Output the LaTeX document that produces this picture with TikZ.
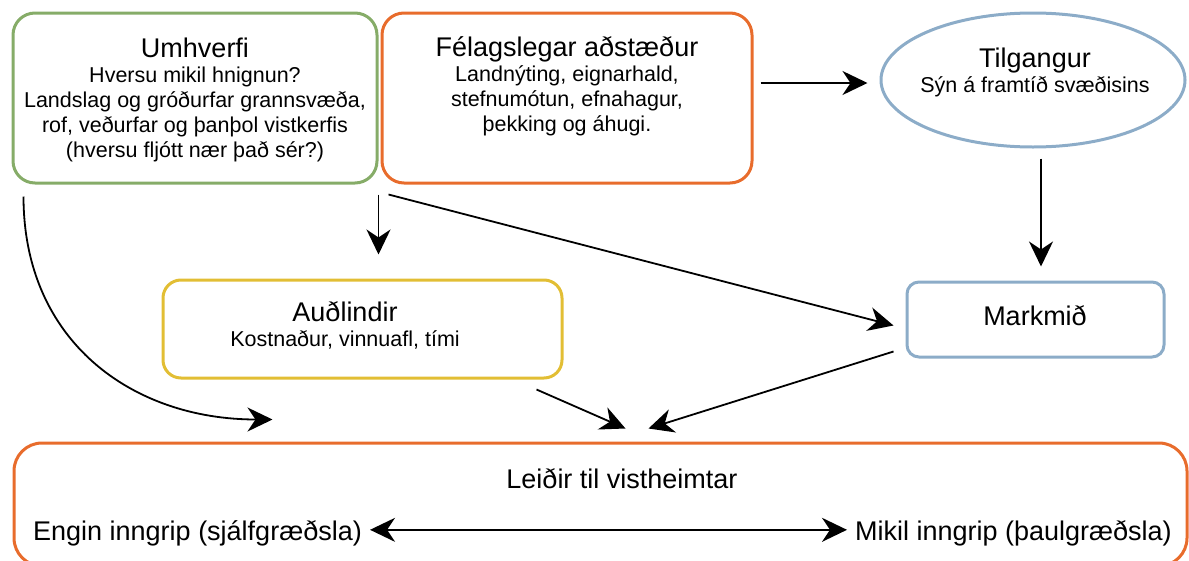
\documentclass[tikz,border=0pt]{standalone}
\usepackage{fontspec}
\setmainfont{Liberation Sans}
\usetikzlibrary{arrows.meta, positioning, calc, shapes.geometric}
\definecolor{envgreen}{RGB}{134,172,104}
\definecolor{socorange}{RGB}{232,108,44}
\definecolor{aimblue}{RGB}{140,172,200}
\definecolor{resyellow}{RGB}{226,190,52}
\newcommand{\headsize}{\fontsize{27}{30}\selectfont}
\newcommand{\bodysize}{\fontsize{21.5}{25}\selectfont}

\begin{document}
\begin{tikzpicture}[x=1pt, y=-1pt,
  >={Stealth[length=25pt, width=24pt, inset=8pt]},
  box/.style={draw, line width=3pt, rounded corners=22pt, inner sep=0pt},
  txt/.style={align=center, inner sep=0pt, font=\bodysize},
  arr/.style={->, line width=1.8pt}]
  \clip (0,0) rectangle (1189,560);
  % the five boxes and the ellipse
  \node[box, envgreen, minimum width=364pt, minimum height=170pt] (env) at (195,98) {};
  \node[box, socorange, minimum width=370pt, minimum height=170pt] (soc) at (567,98) {};
  \node[ellipse, draw, aimblue, line width=3pt, minimum width=304pt, minimum height=134pt] (purpose) at (1033,80) {};
  \node[box, aimblue, rounded corners=12pt, minimum width=257pt, minimum height=75pt] (aim) at (1035.5,319.5) {};
  \node[box, resyellow, rounded corners=18pt, minimum width=399pt, minimum height=98pt] (res) at (362.5,329) {};
  \node[box, socorange, rounded corners=28pt, minimum width=1173pt, minimum height=123pt] (way) at (600.5,504.5) {};

  % texts
  \node[txt] (envtxt) at (195,100) {{\headsize Umhverfi}\\Hversu mikil hnignun?\\Landslag og gróðurfar grannsvæða,\\rof, veðurfar og þanþol vistkerfis\\(hversu fljótt nær það sér?)};
  \node[txt] (soctxt) at (567,86) {{\headsize Félagslegar aðstæður}\\Landnýting, eignarhald,\\stefnumótun, efnahagur,\\þekking og áhugi.};
  \node[txt] (purposetxt) at (1035,72) {{\headsize Tilgangur}\\Sýn á framtíð svæðisins};
  \node[txt, font=\headsize] (aimtxt) at (1035,316) {Markmið};
  \node[txt] (restxt) at (345,325) {{\headsize Auðlindir}\\Kostnaður, vinnuafl, tími};
  \node[txt, font=\headsize, anchor=base] (waytxt) at (622,488) {Leiðir til vistheimtar};
  \node[txt, font=\headsize, anchor=base west] (none) at (33,540) {Engin inngrip (sjálfgræðsla)};
  \node[txt, font=\headsize, anchor=base west] (much) at (855,540) {Mikil inngrip (þaulgræðsla)};

  % arrows
  \coordinate (socout) at ([xshift=7pt,yshift=15pt]soc.east);
  \draw[arr, shorten >=12pt] (socout) -- (socout -| purpose.west);
  \draw[arr, shorten <=10pt, shorten >=14pt] ([xshift=8pt]purpose.south) -- ([xshift=8pt]purpose.south |- aim.north);
  \draw[arr, shorten >=24pt] ([yshift=-10pt]env.south east) -- (env.south east |- res.north);
  \draw[arr] ([xshift=10pt,yshift=-10pt]env.south east) -- ([xshift=-12pt,yshift=-6pt]aim.west);
  \draw[arr] ([xshift=12pt,yshift=-12pt]env.south west) .. controls +(0,145) and +(-140,0) .. ([xshift=-328pt,yshift=22pt]way.north);
  \draw[arr] ([xshift=-27pt,yshift=-10pt]res.south east) -- ([xshift=25pt,yshift=13pt]way.north);
  \draw[arr] ([xshift=-12pt,yshift=7pt]aim.south west) -- ([xshift=48pt,yshift=13pt]way.north);
  \draw[<->, line width=1.8pt, shorten <=8pt, shorten >=8pt] ([yshift=3pt]none.east) -- ([yshift=3pt]much.west);
\end{tikzpicture}
\end{document}
